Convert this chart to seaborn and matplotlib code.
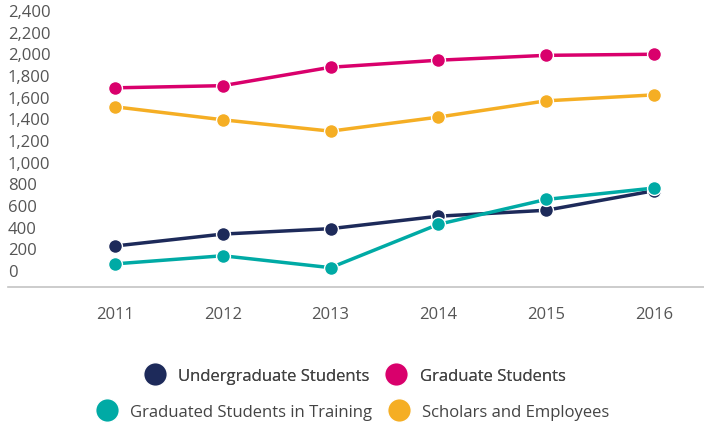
import pandas as pd
import numpy as np
import matplotlib.pyplot as plt
import seaborn as sns
from matplotlib.lines import Line2D
import matplotlib.transforms as mtransforms

years = [2011, 2012, 2013, 2014, 2015, 2016]
undergrad = [240, 350, 400, 515, 570, 750]
graduate = [1700, 1720, 1890, 1955, 2000, 2010]
in_training = [75, 150, 40, 440, 670, 775]
scholars = [1525, 1405, 1300, 1430, 1580, 1635]
y_ticks = [0, 200, 400, 600, 800, 1000, 1200, 1400, 1600, 1800, 2000, 2200, 2400]

series_names = ["Undergraduate Students", "Graduate Students",
                "Graduated Students in Training", "Scholars and Employees"]
colors = ["#1d2a5a", "#d9006c", "#00aaa5", "#f5ae24"]

df = pd.DataFrame({
    "year": years * 4,
    "value": undergrad + graduate + in_training + scholars,
    "series": sum([[n] * len(years) for n in series_names], []),
})

sns.set_style("white")
plt.rcParams["font.family"] = ["Open Sans", "DejaVu Sans"]

fig = plt.figure(figsize=(7.04, 4.31), dpi=100)
ax = fig.add_axes([8 / 704, 1 - 288 / 431, 696 / 704, 288 / 431])

# teal drawn last so it sits over navy at 2016
order = ["Graduate Students", "Scholars and Employees",
         "Undergraduate Students", "Graduated Students in Training"]
for name in order:
    c = colors[series_names.index(name)]
    d = df[df.series == name]
    sns.lineplot(data=d, x="year", y="value", ax=ax, color=c, linewidth=2.5,
                 marker="o", markersize=10, markeredgecolor="white",
                 markeredgewidth=1.0, legend=False)

# pixel mapping: 0 label at y=272, 200 per 21.67 px
step = 21.67 / 200
ax.set_ylim(-(288 - 273) / step, 2400 + 13 / step)
ax.set_xlim(2011 - 107 / 107.8, 2016 + 50 / 107.8)

ax.set_yticks([])
ax.set_xticks(years)
ax.set_xticklabels([str(y) for y in years], fontsize=12, color="#555555")
ax.tick_params(axis="x", length=0, pad=14)
ax.set_xlabel("")
ax.set_ylabel("")

trans = mtransforms.blended_transform_factory(ax.transAxes, ax.transData)
for t in y_ticks:
    ax.text(0, t, f"{t:,}", transform=trans, ha="left", va="center",
            fontsize=12, color="#555555")

for s in ["top", "right", "left"]:
    ax.spines[s].set_visible(False)
ax.spines["bottom"].set_color("#c4c4c4")
ax.spines["bottom"].set_linewidth(1.2)

def handle(c):
    return Line2D([], [], linestyle="none", marker="o", markersize=17,
                  markerfacecolor=c, markeredgecolor="white")

leg1 = fig.legend([handle(colors[0]), handle(colors[1])], series_names[:2],
                  loc="center", bbox_to_anchor=(352 / 704, 1 - 377 / 431),
                  ncol=2, frameon=False, fontsize=12, handletextpad=0.4,
                  columnspacing=0.6, labelcolor="#444444")
leg2 = fig.legend([handle(colors[2]), handle(colors[3])], series_names[2:],
                  loc="center", bbox_to_anchor=(350 / 704, 1 - 413 / 431),
                  ncol=2, frameon=False, fontsize=12, handletextpad=0.4,
                  columnspacing=0.6, labelcolor="#444444")
fig.add_artist(leg1)

fig.savefig("out.png", dpi=100)
